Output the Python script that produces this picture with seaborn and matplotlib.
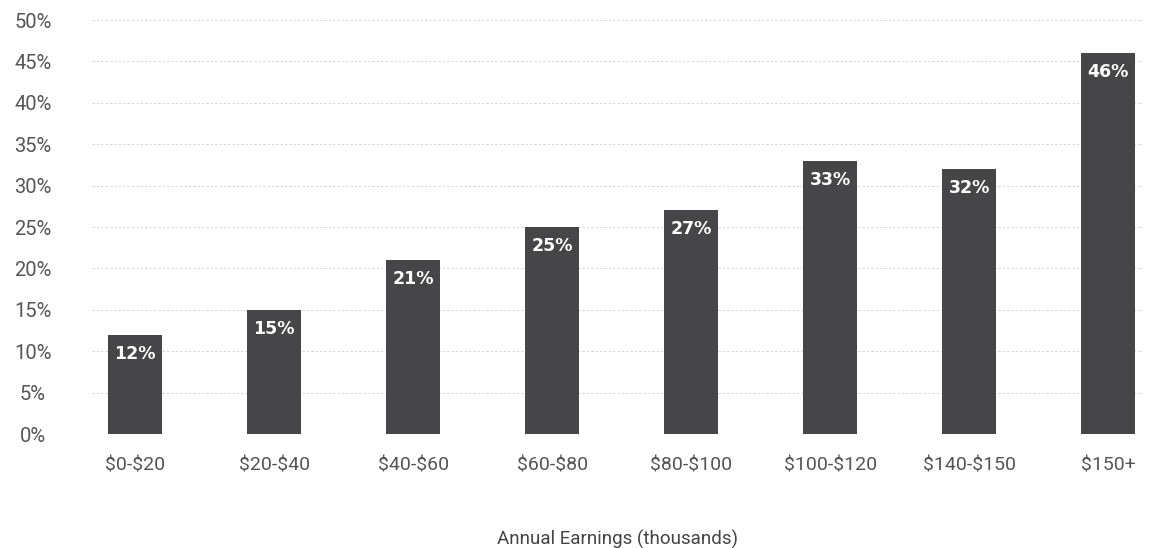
import matplotlib
matplotlib.use("Agg")
import matplotlib.pyplot as plt
import seaborn as sns
import pandas as pd

categories = ["$0-$20", "$20-$40", "$40-$60", "$60-$80", "$80-$100", "$100-$120", "$140-$150", "$150+"]
values = [12, 15, 21, 25, 27, 33, 32, 46]
yticks = [0, 5, 10, 15, 20, 25, 30, 35, 40, 45, 50]

sns.set_theme(style="white")
plt.rcParams['font.family'] = ['Roboto', 'DejaVu Sans']
plt.rcParams['text.parse_math'] = False

df = pd.DataFrame({"cat": categories, "val": values})

fig = plt.figure(figsize=(11.55, 5.48), dpi=100)
ax = fig.add_axes([0.0797, 0.208, 0.91, 0.7555])

sns.barplot(data=df, x="cat", y="val", color="#464547", saturation=1, width=0.39,
            linewidth=0, ax=ax, zorder=3)

tick_color = "#555555"
ax.set_ylim(0, 50)
ax.set_xlim(-0.31, 7.25)
ax.set_yticks(yticks)
ax.set_yticklabels([f"{t}%" for t in yticks], fontsize=14.5, color=tick_color, fontweight="light")
ax.set_xticks(range(len(categories)))
ax.set_xticklabels(categories, fontsize=14, color=tick_color, fontweight="light")
ax.tick_params(axis="x", length=0, pad=16)
ax.tick_params(axis="y", length=0, pad=42.5)
for lbl in ax.get_yticklabels() + ax.get_xticklabels():
    lbl.set_fontweight("normal")
for lbl in ax.get_yticklabels():
    lbl.set_horizontalalignment("center")
for s in ax.spines.values():
    s.set_visible(False)
ax.yaxis.grid(True, linestyle=(0, (2.5, 2)), color="#d6d6d6", linewidth=0.7, zorder=0)
ax.set_axisbelow(True)
ax.set_ylabel("")
ax.set_xlabel("Annual Earnings (thousands)", fontsize=13.5, color="#444444", fontweight="normal", labelpad=40)

for i, v in enumerate(values):
    ax.text(i, v - 1.2, f"{v}%", ha="center", va="top", color="white", fontsize=12.5,
            fontweight="bold", family="DejaVu Sans", zorder=4)

fig.savefig("out.png", dpi=100)
